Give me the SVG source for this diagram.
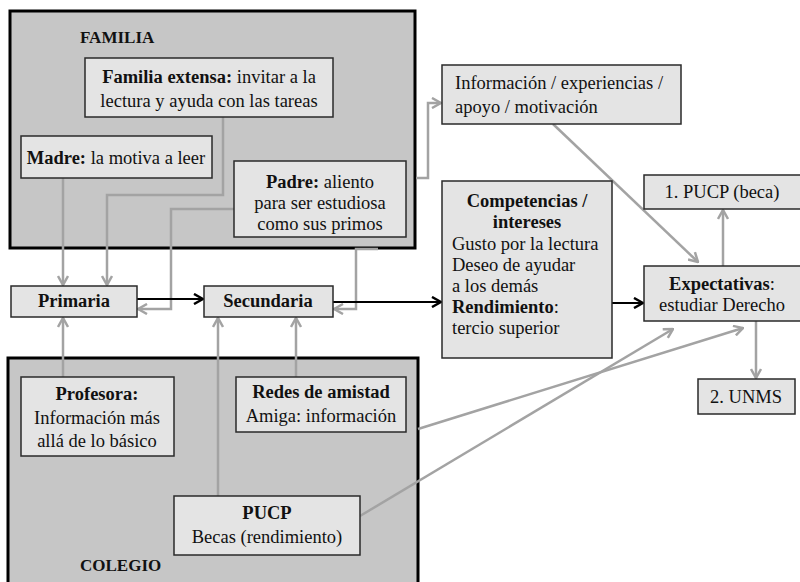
<svg xmlns="http://www.w3.org/2000/svg" width="800" height="582" viewBox="0 0 800 582">
<style>
text{font-family:"Liberation Serif","Times New Roman",serif;font-size:18.5px;fill:#111}
.b{font-weight:bold}
.c{text-anchor:middle}
.outer{fill:#c6c6c6;stroke:#000;stroke-width:3}
.box{fill:#e4e4e4;stroke:#2a2a2a;stroke-width:1.5}
.g{fill:none;stroke:#a3a3a3;stroke-width:2.5}
.k{fill:none;stroke:#000;stroke-width:2}
</style>
<defs>
<marker id="ag" markerUnits="userSpaceOnUse" viewBox="0 0 12 12" refX="11" refY="6" markerWidth="12" markerHeight="12" orient="auto">
<path d="M2,1 L11,6 L2,11" fill="none" stroke="#a3a3a3" stroke-width="2.5"/>
</marker>
<marker id="ak" markerUnits="userSpaceOnUse" viewBox="0 0 12 12" refX="11" refY="6" markerWidth="12" markerHeight="12" orient="auto">
<path d="M2,1 L11,6 L2,11" fill="none" stroke="#000" stroke-width="2.5"/>
</marker>
</defs>

<g id="familia">
<rect class="outer" x="10" y="11" width="405" height="237"/>
<text class="b" x="80" y="43" style="font-size:17px">FAMILIA</text>
</g>
<g id="colegio">
<rect class="outer" x="8" y="358" width="410" height="240"/>
<text class="b" x="80" y="571" style="font-size:17px">COLEGIO</text>
</g>

<g id="connectors">
<path class="g" d="M63,178 V285" marker-end="url(#ag)"/>
<path class="g" d="M223,117 V195 H107 V285" marker-end="url(#ag)"/>
<path class="g" d="M234,209 H171 V309 H138" marker-end="url(#ag)"/>
<path class="g" d="M378,249 H356 V309 H334" marker-end="url(#ag)"/>
<path class="g" d="M416,178 H428 V103 H441" marker-end="url(#ag)"/>
<path class="g" d="M553,124 L698,262" marker-end="url(#ag)"/>
<path class="g" d="M723,266 V210" marker-end="url(#ag)"/>
<path class="g" d="M756,321 V378" marker-end="url(#ag)"/>
<path class="g" d="M63,377 V318" marker-end="url(#ag)"/>
<path class="g" d="M296,377 V318" marker-end="url(#ag)"/>
<path class="g" d="M218,496 V318" marker-end="url(#ag)"/>
<path class="g" d="M418,429 L743,328" marker-end="url(#ag)"/>
<path class="g" d="M360,516 L673,329" marker-end="url(#ag)"/>
<path class="k" d="M137,299 H203" marker-end="url(#ak)"/>
<path class="k" d="M333,302 H441" marker-end="url(#ak)"/>
<path class="k" d="M612,303 H643" marker-end="url(#ak)"/>
</g>

<g id="familia-extensa">
<rect class="box" x="85" y="58" width="248" height="59"/>
<text class="c" x="209" y="83"><tspan class="b">Familia extensa:</tspan> invitar a la</text>
<text class="c" x="209" y="107">lectura y ayuda con las tareas</text>
</g>
<g id="madre">
<rect class="box" x="21" y="136" width="191" height="42"/>
<text class="c" x="116" y="164"><tspan class="b">Madre:</tspan> la motiva a leer</text>
</g>
<g id="padre">
<rect class="box" x="234" y="161" width="172" height="76"/>
<text class="c" x="320" y="188"><tspan class="b">Padre:</tspan> aliento</text>
<text class="c" x="320" y="209">para ser estudiosa</text>
<text class="c" x="320" y="230">como sus primos</text>
</g>
<g id="informacion">
<rect class="box" x="442" y="65" width="239" height="59"/>
<text x="455" y="89">Información / experiencias /</text>
<text x="455" y="113">apoyo / motivación</text>
</g>
<g id="primaria">
<rect class="box" x="11" y="286" width="126" height="31"/>
<text class="c b" x="74" y="307">Primaria</text>
</g>
<g id="secundaria">
<rect class="box" x="204" y="286" width="129" height="31"/>
<text class="c b" x="268" y="307">Secundaria</text>
</g>
<g id="competencias">
<rect class="box" x="442" y="181" width="170" height="177"/>
<text class="c b" x="527" y="207">Competencias /</text>
<text class="c b" x="527" y="228">intereses</text>
<text x="452" y="250">Gusto por la lectura</text>
<text x="452" y="271">Deseo de ayudar</text>
<text x="452" y="292">a los demás</text>
<text class="b" x="452" y="313">Rendimiento<tspan style="font-weight:normal">:</tspan></text>
<text x="452" y="334">tercio superior</text>
</g>
<g id="pucp-beca">
<rect class="box" x="644" y="175" width="160" height="34"/>
<text class="c" x="722" y="198">1. PUCP (beca)</text>
</g>
<g id="expectativas">
<rect class="box" x="644" y="266" width="160" height="55"/>
<text class="c" x="722" y="290"><tspan class="b">Expectativas</tspan>:</text>
<text class="c" x="722" y="311">estudiar Derecho</text>
</g>
<g id="unms">
<rect class="box" x="698" y="379" width="97" height="35"/>
<text class="c" x="746" y="403">2. UNMS</text>
</g>
<g id="profesora">
<rect class="box" x="21" y="377" width="153" height="79"/>
<text class="c b" x="97" y="400">Profesora:</text>
<text class="c" x="97" y="424">Información más</text>
<text class="c" x="97" y="447">allá de lo básico</text>
</g>
<g id="redes">
<rect class="box" x="236" y="377" width="170" height="55"/>
<text class="c b" x="321" y="398">Redes de amistad</text>
<text class="c" x="321" y="422">Amiga: información</text>
</g>
<g id="pucp">
<rect class="box" x="174" y="496" width="186" height="59"/>
<text class="c b" x="267" y="519">PUCP</text>
<text class="c" x="267" y="543">Becas (rendimiento)</text>
</g>
</svg>
